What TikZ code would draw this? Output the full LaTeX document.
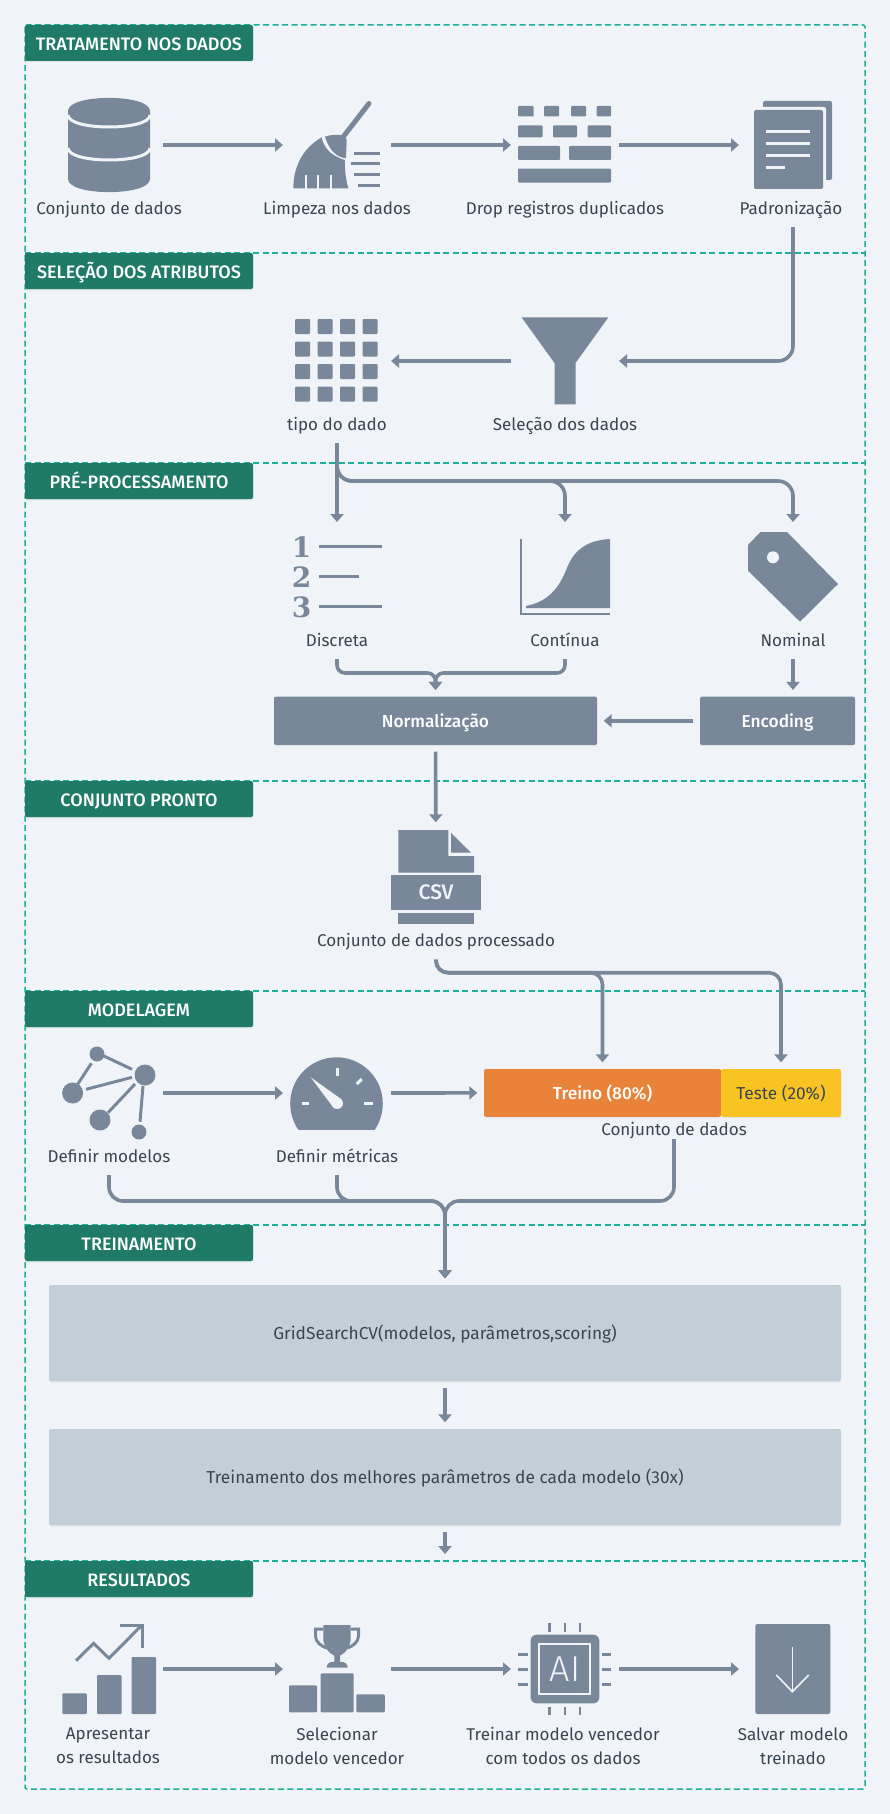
\documentclass[tikz,border=0pt]{standalone}
\usepackage{fontspec}
\setmainfont{Fira Sans}
\newfontfamily\mediumfont{Fira Sans Medium}
\newfontfamily\lightfont{Fira Sans Light}
\usetikzlibrary{arrows.meta,shadows}
\definecolor{bgcol}{HTML}{F0F4F8}
\definecolor{iconcol}{HTML}{78889A}
\definecolor{headcol}{HTML}{1F7A68}
\definecolor{framecol}{HTML}{1CB09A}
\definecolor{palecol}{HTML}{C2CFD9}
\definecolor{textcol}{HTML}{3A4552}
\definecolor{treinocol}{HTML}{E98339}
\definecolor{testecol}{HTML}{F9C423}
\tikzset{
  softshadow/.style={drop shadow={opacity=0.12,shadow xshift=0pt,shadow yshift=-1.5pt}},
  secframe/.style={draw=framecol,line width=1.5pt,dash pattern=on 6pt off 3.5pt},
  sechead/.style={fill=headcol,text=white,font=\mediumfont\fontsize{18}{20}\selectfont,rounded corners=2pt,
    minimum width=228pt,minimum height=36pt,inner sep=0pt,text height=16pt,text depth=1.6pt,softshadow},
  caption/.style={text=textcol,font=\fontsize{17}{24}\selectfont,minimum height=36pt,inner sep=0pt,
    text height=13pt,text depth=2pt,align=center},
  captwo/.style={text=textcol,font=\fontsize{17}{24}\selectfont,inner sep=0pt,align=center},
  iconslot/.style={minimum width=108pt,minimum height=110pt,inner sep=0pt,outer sep=0pt},
  flowbox/.style={rounded corners=2pt,inner sep=0pt,outer sep=6.7pt,softshadow,
    text height=14pt,text depth=1pt,font=\fontsize{17.3}{19}\selectfont},
  boldbox/.style={flowbox,text=white,font=\mediumfont\fontsize{17.3}{19}\selectfont},
  flow/.style={draw=iconcol,line width=3.6pt,-{Triangle[length=8pt,width=13pt]}},
  iconfill/.style={fill=iconcol},
  iconline/.style={draw=iconcol,line width=3pt},
  cutline/.style={draw=bgcol,line width=3pt},
}
\begin{document}
\begin{tikzpicture}[x=1pt,y=-1pt]
    \useasboundingbox (0,0) rectangle (890,1814);
    \fill[bgcol] (0,0) rectangle (890,1814);

    % section frames and their titles
    \draw[secframe,rounded corners=2pt] (25,25) rectangle (865,1789);
    \foreach \ya in {253,463,781,991,1225,1561}
        \draw[secframe] (25,\ya) -- (865,\ya);
    \foreach \secname/\secy/\sectitle in {headTrat/43/TRATAMENTO NOS DADOS,headSel/271/SELEÇÃO DOS ATRIBUTOS,
        headPre/481/PRÉ-PROCESSAMENTO,headPronto/799/CONJUNTO PRONTO,headModel/1009/MODELAGEM,
        headTrein/1243/TREINAMENTO,headRes/1579/RESULTADOS}
        \node[sechead] (\secname) at (139,\secy) {\sectitle};

    % places of the icons
    \foreach \slotname/\sx/\sy in {slotDb/109/145,slotBroom/337/145,slotDrop/565/145,slotPad/793/145,
        slotTipo/337/361,slotFunnel/565/361,slotDisc/337/577,slotCont/565/577,slotNom/793/577,
        slotCsv/436/877.3,slotNet/109/1093,slotGauge/337/1093,
        slotBars/109/1669,slotPodium/337/1669,slotChip/565/1669,slotSave/793/1669}
        \node[iconslot] (\slotname) at (\sx,\sy) {};

    % captions
    \foreach \capname/\cx/\cy/\captext in {capDb/109/209/Conjunto de dados,capBroom/337/209/Limpeza nos dados,
        capDrop/565/209/Drop registros duplicados,capPad/791/209/Padronização,
        capTipo/337/425/tipo do dado,capFunnel/565/425/Seleção dos dados,
        capDisc/337/641/Discreta,capCont/565/641/Contínua,capNom/793/641/Nominal,
        capCsv/436/941.3/Conjunto de dados processado,capNet/109/1157/Definir modelos,capGauge/337/1157/Definir métricas}
        \node[caption] (\capname) at (\cx,\cy) {\captext};
    \node[caption,minimum height=18pt] (capSplit) at (674,1130) {Conjunto de dados};
    \node[captwo] (capBars) at (108,1746) {Apresentar\\os resultados};
    \node[captwo] (capPodium) at (337,1746) {Selecionar\\modelo vencedor};
    \node[captwo] (capChip) at (563,1746) {Treinar modelo vencedor\\com todos os dados};
    \node[captwo] (capSave) at (793,1746) {Salvar modelo\\treinado};

    % boxes
    \node[boldbox,fill=iconcol,minimum width=323pt,minimum height=48.3pt] (boxNorm) at (435.5,720.8) {Normalização};
    \node[boldbox,fill=iconcol,minimum width=155pt,minimum height=48.3pt] (boxEnc) at (777.5,720.8) {Encoding};
    \node[boldbox,fill=treinocol,minimum width=237pt,minimum height=47.7pt] (boxTreino) at (602.5,1092.9) {Treino (80\%)};
    \node[flowbox,fill=testecol,text=textcol,minimum width=120pt,minimum height=47.7pt] (boxTeste) at (781,1092.9) {Teste (20\%)};
    \node[flowbox,fill=palecol,text=textcol,minimum width=792pt,minimum height=96pt] (boxGrid) at (445,1333) {GridSearchCV(modelos, parâmetros,scoring)};
    \node[flowbox,fill=palecol,text=textcol,minimum width=792pt,minimum height=96pt] (boxBest) at (445,1477) {Treinamento dos melhores parâmetros de cada modelo (30x)};

    % connectors
    \coordinate (busNorm) at (435.5,673);
    \coordinate (busTipo) at (0,481);
    \coordinate (busCsv) at (0,972.7);
    \coordinate (busModel) at (445,1201);
    \coordinate (endBest) at (445,1554);

    \draw[flow] (slotDb) -- (slotBroom);
    \draw[flow] (slotBroom) -- (slotDrop);
    \draw[flow] (slotDrop) -- (slotPad);
    \draw[flow,rounded corners=15pt] (capPad.south -| slotPad) |- (slotFunnel.east);
    \draw[flow] (slotFunnel) -- (slotTipo);
    \draw[flow] (capTipo) -- (slotDisc);
    \draw[flow,rounded corners=15pt] (capTipo.south) |- (busTipo -| slotCont) -- (slotCont.north);
    \draw[flow,rounded corners=15pt] (capTipo.south) |- (busTipo -| slotNom) -- (slotNom.north);
    \draw[flow,rounded corners=8pt] (capDisc.south) |- (busNorm) -- (boxNorm.north);
    \draw[flow,rounded corners=8pt] (capCont.south) |- (busNorm) -- (boxNorm.north);
    \draw[flow] (capNom.south) -- (capNom.south |- boxEnc.north);
    \draw[flow] (boxEnc) -- (boxNorm);
    \draw[flow] (boxNorm) -- (slotCsv);
    \draw[flow,rounded corners=12pt] (capCsv.south) |- (busCsv -| boxTreino) -- (boxTreino.north);
    \draw[flow,rounded corners=12pt] (capCsv.south) |- (busCsv -| boxTeste) -- (boxTeste.north);
    \draw[flow] (slotNet) -- (slotGauge);
    \draw[flow] (slotGauge.east) -- (boxTreino.west);
    \draw[flow,rounded corners=14pt] (capNet.south) |- (busModel) -- (boxGrid.north);
    \draw[flow,rounded corners=14pt] (capGauge.south) |- (busModel) -- (boxGrid.north);
    \draw[flow,rounded corners=14pt] (capSplit.south) |- (busModel) -- (boxGrid.north);
    \draw[flow] (boxGrid) -- (boxBest);
    \draw[flow] (boxBest) -- (endBest);
    \draw[flow] (slotBars) -- (slotPodium);
    \draw[flow] (slotPodium) -- (slotChip);
    \draw[flow] (slotChip) -- (slotSave);

    % database
    \fill[iconfill] (68,111) .. controls (68,93.5) and (150,93.5) .. (150,111) -- (150,179)
        .. controls (150,196.5) and (68,196.5) .. (68,179) -- cycle;
    \draw[cutline] (68,115) .. controls (68,131) and (150,131) .. (150,115);
    \draw[cutline] (68,148) .. controls (68,164) and (150,164) .. (150,148);

    % broom
    \draw[iconcol,line width=5pt,line cap=round] (369,103.5) -- (343.3,136.7);
    \fill[iconfill] (325,136.7) .. controls (331,134.5) and (337,134.5) .. (341.7,135)
        .. controls (345,136) and (346.7,138) .. (346.7,140) -- (346,158.3)
        .. controls (337,157) and (330,152) .. cycle;
    \fill[iconfill] (293.3,188.3) .. controls (293.5,170) and (300,150) .. (321.7,137.3)
        .. controls (323,146) and (330,156) .. (345,160) .. controls (344.5,170) and (346,180) .. (348.3,188.3) -- cycle;
    \foreach \nx in {306,318.3,330.7}
        \draw[draw=bgcol,line width=2pt] (\nx,175) -- (\nx,190);
    \foreach \lx/\ly in {354/153.3,350.7/164,354/174.7,358.3/185.3}
        \draw[iconline] (\lx,\ly) -- (380,\ly);

    % bricks
    \foreach \xa/\ya/\xb/\yb in {518/106/533.5/116.5,544/106/559/116.5,571/106/586/116.5,596.5/106/611/116.5,
        518/125.3/542.5/137.3,553/125.3/577/137.3,587.5/125.3/611/137.3,
        518/146/560/160,569/146/611/160,518/168.7/611/182.7}
        \fill[iconfill,rounded corners=1pt] (\xa,\ya) rectangle (\xb,\yb);

    % papers
    \fill[iconfill,rounded corners=2pt] (763,101) rectangle (832,180);
    \fill[bgcol,rounded corners=2pt] (751,107) rectangle (826,192);
    \fill[iconfill,rounded corners=2pt] (754,110) rectangle (823,189);
    \foreach \ly/\lxb in {131.7/810,143.3/810,155.3/810,167.3/785}
        \draw[cutline] (766,\ly) -- (\lxb,\ly);

    % grid of cells
    \foreach \xa in {295,317.5,340,362.5}
        \foreach \ya in {319,341.5,364,386.7}
            \fill[iconfill,rounded corners=1pt] (\xa,\ya) rectangle +(15,15);

    % funnel
    \fill[iconfill] (521.6,317.3) -- (608.4,317.3) -- (575.5,363) -- (575.5,404.3) -- (554.5,404.3) -- (554.5,363) -- cycle;

    % numbered list
    \foreach \numname/\ny/\numtext in {numOne/547/1,numTwo/577/2,numThree/607.5/3}
        \node[text=iconcol,font=\fontspec{DejaVu Serif}\fontsize{28}{30}\selectfont\bfseries,inner sep=0pt] (\numname) at (301.5,\ny) {\numtext};
    \foreach \ly/\lxb in {546.7/382,576.7/359,606.7/382}
        \draw[iconline] (319,\ly) -- (\lxb,\ly);

    % curve
    \draw[draw=iconcol,line width=2pt] (520.5,539) -- (520.5,613.5) -- (610,613.5);
    \fill[iconfill] (526,606) .. controls (552,601) and (561,583) .. (567.5,566.7)
        .. controls (575,548) and (590,540) .. (610,539) -- (610,608) -- (526,608) -- cycle;

    % tag
    \fill[iconfill] (760.5,532) -- (787,532) -- (838,584) -- (800,621.7) -- (748,570.7) -- (748,545) -- cycle;
    \fill[bgcol] (773,557.3) circle (6pt);

    % csv file
    \fill[iconfill] (398.4,830) -- (448.4,830) -- (448.4,856) -- (474,856) -- (474,872.7) -- (398.4,872.7) -- cycle;
    \fill[iconfill] (451,833) -- (471,852.7) -- (451,852.7) -- cycle;
    \node[fill=iconcol,text=bgcol,font=\mediumfont\fontsize{21}{22}\selectfont,minimum width=90.3pt,minimum height=34.7pt,inner sep=0pt] (csvBand) at (436.1,892.6) {CSV};
    \fill[iconfill] (398.4,913) rectangle (474,923.7);

    % network
    \foreach \ex/\ey/\fx/\fy in {104/1056/132/1069.3,91.4/1063.3/77.8/1084,132/1077.3/86/1089.3,135/1084/108/1112.7,143/1086/140/1121.7}
        \draw[iconline] (\ex,\ey) -- (\fx,\fy);
    \foreach \cx/\cy/\cr in {97/1054/7.5,145/1075/10.5,72.6/1093/10.5,100/1120/10.5,139/1132/7.5}
        \fill[iconfill] (\cx,\cy) circle (\cr pt);

    % gauge
    \begin{scope}
        \clip (285,1050) rectangle (390,1129);
        \fill[iconfill] (336.5,1103.6) circle (46.3pt);
    \end{scope}
    \draw[cutline] (337.3,1068.3) -- (337.3,1076);
    \draw[cutline] (361.7,1079) -- (356.7,1084);
    \draw[cutline] (301.7,1103.3) -- (309.3,1103.3);
    \draw[cutline] (364.3,1103.3) -- (373.3,1103.3);
    \fill[bgcol] (310.7,1077.3) -- (341.3,1099.2) -- (333.3,1107.4) -- cycle;
    \fill[bgcol] (337.3,1103.3) circle (5.7pt);

    % bars and trend
    \foreach \xa/\ya/\xb in {62.4/1693.3/86.8,97/1675/121.5,131.7/1657/156}
        \fill[iconfill,rounded corners=1pt] (\xa,\ya) rectangle (\xb,1714);
    \draw[iconline] (76,1660.7) -- (93.6,1643.3) -- (109,1658.3) -- (141,1626);
    \draw[iconline] (120.3,1625.5) -- (142.4,1625.5) -- (142.4,1647.7);

    % podium and trophy
    \foreach \xa/\ya/\xb in {289/1685.3/317,320.7/1673.3/353.6,356.4/1694.3/384.8}
        \fill[iconfill,rounded corners=1pt] (\xa,\ya) rectangle (\xb,1712.3);
    \fill[iconfill] (323.3,1625) -- (350.7,1625) -- (350.7,1638.3) .. controls (350.7,1646) and (346,1653) .. (340,1655.7)
        -- (340,1661.7) .. controls (345,1661.7) and (347.7,1664) .. (347.7,1667.7) -- (326.7,1667.7)
        .. controls (326.7,1664) and (329,1661.7) .. (334.3,1661.7) -- (334.3,1655.7)
        .. controls (328,1653) and (323.3,1646) .. (323.3,1638.3) -- cycle;
    \draw[iconline] (323.3,1629) -- (315.5,1629) -- (315.5,1636) .. controls (315.5,1642) and (321,1646) .. (326.7,1648);
    \draw[iconline] (350.7,1629) -- (358.5,1629) -- (358.5,1636) .. controls (358.5,1642) and (353,1646) .. (347.3,1648);

    % chip
    \fill[iconfill,rounded corners=6pt] (530.6,1634.7) rectangle (599.3,1703.3);
    \draw[draw=bgcol,line width=2pt] (539,1644) rectangle (590,1694);
    \node[text=bgcol,font=\lightfont\fontsize{36}{37}\selectfont,inner sep=0pt] (chipText) at (565,1669) {AI};
    \foreach \px in {549.4,564.7,580} {
        \draw[draw=iconcol,line width=2.3pt] (\px,1622.7) -- (\px,1631.7);
        \draw[draw=iconcol,line width=2.3pt] (\px,1706.7) -- (\px,1715.3);
    }
    \foreach \py in {1654,1669,1684} {
        \draw[iconline] (518,\py) -- (527.8,\py);
        \draw[iconline] (602,\py) -- (611,\py);
    }

    % save
    \fill[iconfill,rounded corners=2pt] (755.4,1624) rectangle (830.3,1714);
    \draw[draw=bgcol,line width=1.6pt] (792.3,1646.7) -- (792.3,1691.7);
    \draw[draw=bgcol,line width=1.6pt] (776.4,1675) -- (792.3,1691.7) -- (808.7,1675);
\end{tikzpicture}
\end{document}
